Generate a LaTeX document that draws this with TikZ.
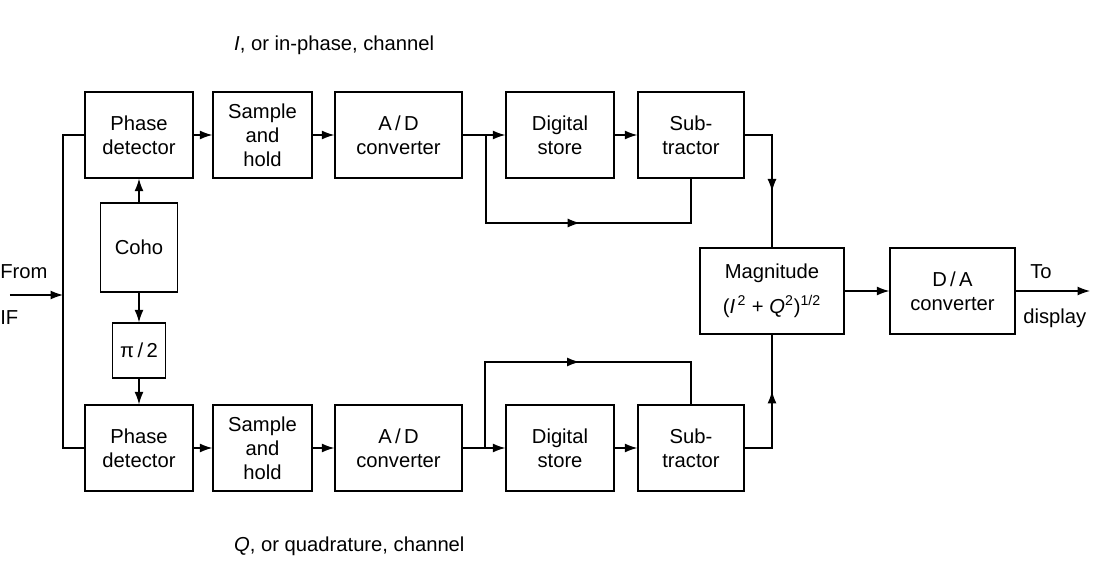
\documentclass[tikz,border=0pt]{standalone}
\usepackage{fontspec}
\setmainfont{Liberation Sans}
\usetikzlibrary{arrows.meta,decorations.markings}

\begin{document}
\begin{tikzpicture}[font=\fontsize{11.5}{13.7}\selectfont,
    blk/.style ={draw, line width=0.8pt, align=center, minimum height=1.72cm, inner sep=2pt},
    sig/.style ={line width=0.7pt, -{Latex[length=2.5mm,width=1.8mm]}},
    wire/.style={line width=0.7pt},
    midarr/.style={line width=0.7pt, postaction={decorate},
      decoration={markings, mark=at position #1 with {\arrow{Latex[length=2.5mm,width=1.8mm]}}}},
  ]
  \useasboundingbox (0,0) rectangle (22.14,11.34);

  % I channel
  \node[blk, minimum width=2.16cm] (pd1) at (2.78,8.64) {Phase\\detector};
  \node[blk, minimum width=1.98cm] (sh1) at (5.25,8.64) {Sample\\and\\hold};
  \node[blk, minimum width=2.54cm] (ad1) at (7.97,8.64) {A\,/\,D\\converter};
  \node[blk, minimum width=2.16cm] (ds1) at (11.2,8.64) {Digital\\store};
  \node[blk, minimum width=2.12cm] (sb1) at (13.82,8.64) {Sub-\\tractor};
  % Q channel
  \node[blk, minimum width=2.16cm] (pd2) at (2.78,2.38) {Phase\\detector};
  \node[blk, minimum width=1.98cm] (sh2) at (5.25,2.38) {Sample\\and\\hold};
  \node[blk, minimum width=2.54cm] (ad2) at (7.97,2.38) {A\,/\,D\\converter};
  \node[blk, minimum width=2.16cm] (ds2) at (11.2,2.38) {Digital\\store};
  \node[blk, minimum width=2.12cm] (sb2) at (13.82,2.38) {Sub-\\tractor};
  % oscillator and shifter
  \node[blk, minimum width=1.54cm, minimum height=1.78cm] (coho) at (2.78,6.39) {Coho};
  \node[blk, minimum width=1.06cm, minimum height=1.1cm] (shift) at (2.78,4.33) {π\,/\,2};
  % output side
  \node[blk, minimum width=2.88cm] (mag) at (15.44,5.52)
    {Magnitude\\[6pt](\textit{I}\textsuperscript{\,2} + \textit{Q}\textsuperscript{2})\textsuperscript{1/2}};
  \node[blk, minimum width=2.5cm] (da) at (19.05,5.52) {D\,/\,A\\converter};

  % labels
  \node[anchor=west] (ilab) at (4.56,10.44) {\textit{I}, or in-phase, channel};
  \node[anchor=west] (qlab) at (4.56,0.42) {\textit{Q}, or quadrature, channel};
  \node[anchor=west, inner sep=0pt] (from) at (0,5.9) {From};
  \node[anchor=west, inner sep=0pt] (if) at (0,4.98) {IF};
  \node[anchor=west, inner sep=0pt] (to) at (20.6,5.9) {To};
  \node[anchor=west, inner sep=0pt] (disp) at (20.46,4.98) {display};

  % input from IF
  \coordinate (in) at (0.2,5.44);
  \coordinate (bus) at (1.26,5.44);
  \draw[sig] (in) -- (bus);
  \draw[wire] (pd1.west) -| (bus) |- (pd2.west);

  % reference signal
  \draw[sig] (coho.north) -- (pd1.south);
  \draw[sig] (coho.south) -- (shift.north);
  \draw[sig] (shift.south) -- (pd2.north);

  % main chains
  \foreach \a/\b in {pd1/sh1, sh1/ad1, ad1/ds1, ds1/sb1, pd2/sh2, sh2/ad2, ad2/ds2, ds2/sb2}
    \draw[sig] (\a) -- (\b);

  % bypass to subtractors
  \coordinate (br1) at (9.72,8.64);
  \coordinate (fb1) at (13.82,6.88);
  \draw[midarr=0.54] (br1) |- (fb1) -- (sb1.south);
  \coordinate (br2) at (9.7,2.38);
  \coordinate (fb2) at (13.82,4.1);
  \draw[midarr=0.54] (br2) |- (fb2) -- (sb2.north);

  % to magnitude and display
  \draw[midarr=0.6] (sb1.east) -| (mag.north);
  \draw[midarr=0.6] (sb2.east) -| (mag.south);
  \draw[sig] (mag) -- (da);
  \coordinate (out) at (21.8,5.52);
  \draw[sig] (da) -- (out);
\end{tikzpicture}
\end{document}
